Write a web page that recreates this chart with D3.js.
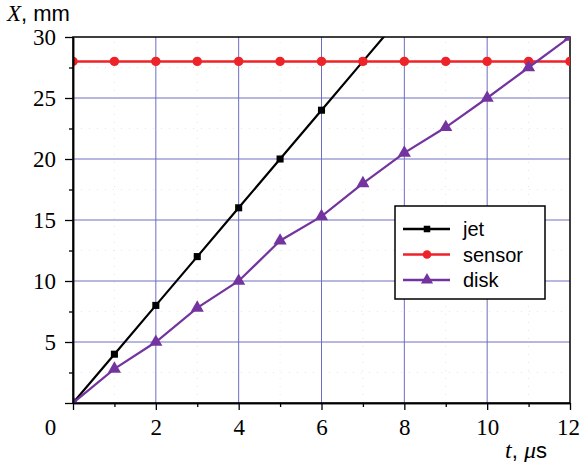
<!DOCTYPE html>
<html>
<head>
<meta charset="utf-8">
<script src="https://cdn.jsdelivr.net/npm/d3@7"></script>
<style>
  body { margin: 0; background: #fff; }
  svg { display: block; }
</style>
</head>
<body>
<div id="chart"></div>
<script>
(function() {
    "use strict";

    // data
    var times = [0, 1, 2, 3, 4, 5, 6, 7, 8, 9, 10, 11, 12];
    var jet = [0, 4, 8, 12, 16, 20, 24, 28, 32];
    var sensor = [28, 28, 28, 28, 28, 28, 28, 28, 28, 28, 28, 28, 28];
    var disk = [0, 2.8, 5, 7.8, 10, 13.3, 15.3, 18, 20.5, 22.6, 25, 27.5, 30];
    var xTicks = [0, 2, 4, 6, 8, 10, 12];
    var xMinor = [1, 3, 5, 7, 9, 11];
    var yTicks = [0, 5, 10, 15, 20, 25, 30];
    var yMinor = [2.5, 7.5, 12.5, 17.5, 22.5, 27.5];
    var seriesNames = ["jet", "sensor", "disk"];
    var seriesColors = ["#000000", "#ee2229", "#7434a0"];
    var seriesShapes = [d3.symbolSquare, d3.symbolCircle, d3.symbolTriangle];
    var seriesSizes = [50, 70, 75];

    var W = 580, H = 462;
    var x = d3.scaleLinear().domain([0, 12]).range([73, 570]);
    var y = d3.scaleLinear().domain([0, 30]).range([403, 37]);

    var svg = d3.select("#chart").append("svg")
        .attr("width", W).attr("height", H);

    svg.append("defs").append("clipPath").attr("id", "plot-clip")
        .append("rect")
        .attr("x", x(0)).attr("y", y(30))
        .attr("width", x(12) - x(0)).attr("height", y(0) - y(30));

    // faint minor grid
    var grid = svg.append("g");
    grid.selectAll("line.mx").data(xMinor).enter().append("line")
        .attr("x1", function(d) { return x(d); }).attr("x2", function(d) { return x(d); })
        .attr("y1", y(0)).attr("y2", y(30))
        .attr("stroke", "#e6e6e6").attr("stroke-dasharray", "1,7");
    grid.selectAll("line.my").data(yMinor).enter().append("line")
        .attr("y1", function(d) { return y(d); }).attr("y2", function(d) { return y(d); })
        .attr("x1", x(0)).attr("x2", x(12))
        .attr("stroke", "#e6e6e6").attr("stroke-dasharray", "1,7");

    // major grid
    grid.selectAll("line.gx").data(xTicks.slice(1, -1)).enter().append("line")
        .attr("x1", function(d) { return x(d); }).attr("x2", function(d) { return x(d); })
        .attr("y1", y(0)).attr("y2", y(30))
        .attr("stroke", "#6e6ec4").attr("stroke-width", 1);
    grid.selectAll("line.gy").data(yTicks.slice(1, -1)).enter().append("line")
        .attr("y1", function(d) { return y(d); }).attr("y2", function(d) { return y(d); })
        .attr("x1", x(0)).attr("x2", x(12))
        .attr("stroke", "#6e6ec4").attr("stroke-width", 1);

    // frame
    svg.append("rect")
        .attr("x", x(0)).attr("y", y(30))
        .attr("width", x(12) - x(0)).attr("height", y(0) - y(30))
        .attr("fill", "none").attr("stroke", "#000").attr("stroke-width", 1.5);

    // series
    var series = [jet, sensor, disk];
    var plot = svg.append("g").attr("clip-path", "url(#plot-clip)");
    var line = d3.line()
        .x(function(d) { return x(d[0]); })
        .y(function(d) { return y(d[1]); });
    series.forEach(function(vals, i) {
        var pts = vals.map(function(v, j) { return [times[j], v]; });
        var g = plot.append("g");
        g.append("path").datum(pts)
            .attr("d", line)
            .attr("fill", "none")
            .attr("stroke", seriesColors[i])
            .attr("stroke-width", i === 1 ? 2.5 : 2.2);
        g.selectAll("path.m").data(pts).enter().append("path")
            .attr("d", d3.symbol().type(seriesShapes[i]).size(seriesSizes[i]))
            .attr("transform", function(d) {
                return "translate(" + x(d[0]) + "," + y(d[1]) + ")";
            })
            .attr("fill", seriesColors[i]);
    });

    var serif = "'Liberation Serif', 'DejaVu Serif', serif";
    var sans = "'Liberation Sans', Arial, sans-serif";

    // axes
    var yAxis = svg.append("g").attr("transform", "translate(" + x(0) + ",0)")
        .call(d3.axisLeft(y).tickValues(yTicks).tickSize(8).tickSizeOuter(0)
            .tickFormat(function(d) { return d === 0 ? "" : d; }));
    svg.append("g").attr("transform", "translate(" + x(0) + ",0)")
        .call(d3.axisLeft(y).tickValues(yMinor).tickSize(4).tickSizeOuter(0).tickFormat(""));
    var xAxis = svg.append("g").attr("transform", "translate(0," + y(0) + ")")
        .call(d3.axisBottom(x).tickValues(xTicks).tickSize(7).tickSizeOuter(0));
    svg.append("g").attr("transform", "translate(0," + y(0) + ")")
        .call(d3.axisBottom(x).tickValues(xMinor).tickSize(4).tickSizeOuter(0).tickFormat(""));

    svg.selectAll(".domain").attr("stroke", "#000").attr("stroke-width", 1.5);
    svg.selectAll(".tick line").attr("stroke", "#000").attr("stroke-width", 1.3);

    yAxis.selectAll("text")
        .attr("x", -17).attr("dy", "0.33em")
        .style("font-family", serif).style("font-size", "23px").attr("fill", "#000");
    xAxis.selectAll("text")
        .attr("y", 32).attr("dy", "0")
        .style("font-family", serif).style("font-size", "23px").attr("fill", "#000");
    xAxis.selectAll(".tick").filter(function(d) { return d === 0; })
        .select("text").attr("x", -23);
    xAxis.selectAll(".tick").filter(function(d) { return d === 12; })
        .select("text").attr("text-anchor", "end").attr("x", 9.5);

    // axis titles
    var yl = svg.append("text").attr("x", 7).attr("y", 21)
        .style("font-size", "23px").attr("fill", "#000");
    yl.append("tspan").style("font-family", serif).style("font-style", "italic").text("X");
    yl.append("tspan").style("font-family", sans).style("font-size", "22px").text(", mm");

    var xl = svg.append("text").attr("x", 505).attr("y", 458)
        .style("font-size", "24px").attr("fill", "#000");
    xl.append("tspan").style("font-family", serif).style("font-style", "italic").text("t");
    xl.append("tspan").style("font-family", sans).style("font-size", "22px").text(", ");
    xl.append("tspan").style("font-family", serif).style("font-style", "italic").text("\u03bc");
    xl.append("tspan").style("font-family", sans).style("font-size", "22px").text("s");

    // legend
    var legend = svg.append("g").attr("transform", "translate(395,206)");
    legend.append("rect")
        .attr("width", 150).attr("height", 93)
        .attr("fill", "#fff").attr("stroke", "#000").attr("stroke-width", 1.5);
    seriesNames.forEach(function(name, i) {
        var cy = 23 + i * 25.5;
        var row = legend.append("g").attr("transform", "translate(0," + cy + ")");
        row.append("line").attr("x1", 8).attr("x2", 55)
            .attr("stroke", seriesColors[i]).attr("stroke-width", 2.5);
        row.append("path")
            .attr("d", d3.symbol().type(seriesShapes[i]).size(seriesSizes[i] * 0.85))
            .attr("transform", "translate(32,0)")
            .attr("fill", seriesColors[i]);
        row.append("text").attr("x", 68).attr("y", 0).attr("dy", "0.35em")
            .style("font-family", sans).style("font-size", "20px")
            .attr("fill", "#000").text(name);
    });
}());
</script>
</body>
</html>
